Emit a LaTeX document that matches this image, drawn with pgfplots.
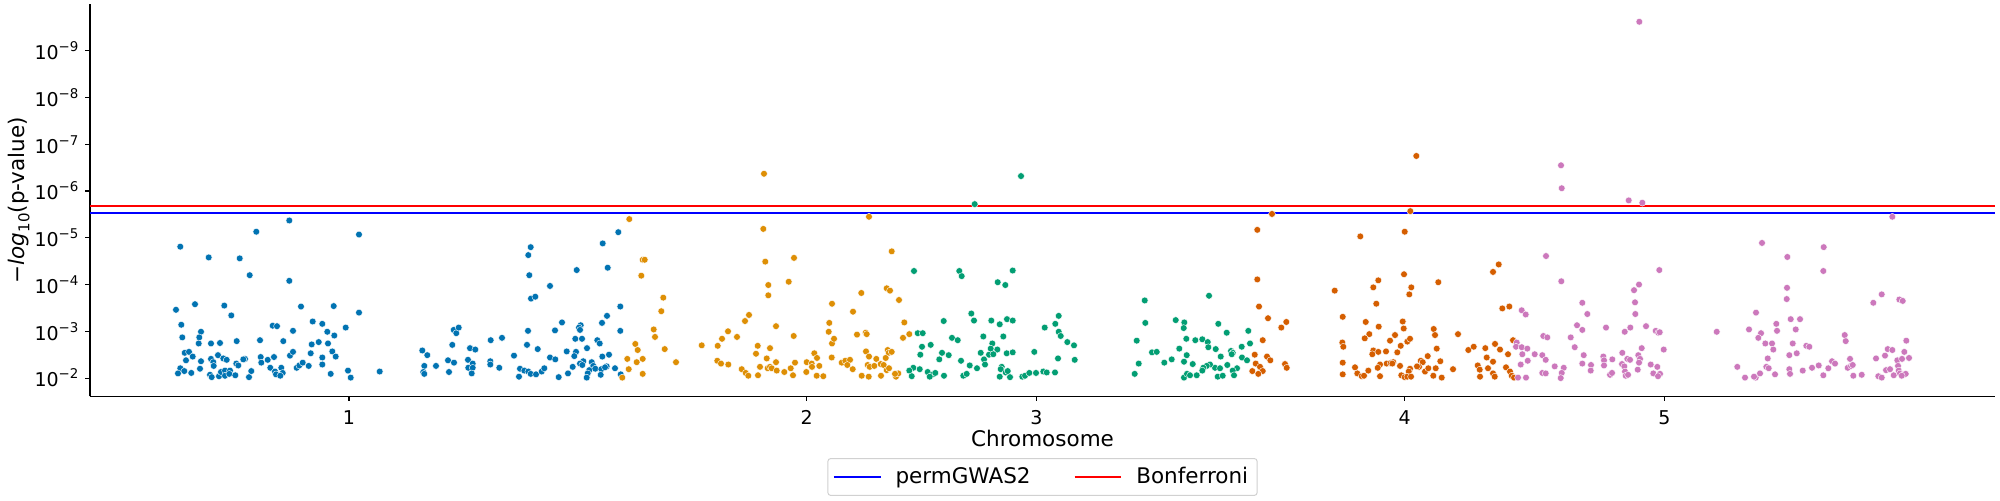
\documentclass[border=0pt]{standalone}
\usepackage{fontspec}
\setmainfont{DejaVu Sans}
\usepackage{pgfplots}
\pgfplotsset{compat=1.18}
\definecolor{cA}{HTML}{0173B2}
\definecolor{cB}{HTML}{DE8F05}
\definecolor{cC}{HTML}{029E73}
\definecolor{cD}{HTML}{D55E00}
\definecolor{cE}{HTML}{CC78BC}
\newcommand{\tsup}[1]{10\raisebox{0.42em}{\fontsize{6.7pt}{7pt}\selectfont #1}}
\pgfplotsset{dots/.style={only marks, mark=*, mark size=1.7pt, color=#1, mark options={draw=white, line width=0.2pt, fill=#1}, forget plot}}
\begin{document}
\begin{tikzpicture}
\begin{axis}[
  at={(0,0)}, anchor=south west,
  scale only axis, width=952.5pt, height=196.15pt,
  xmin=90, xmax=1995, ymin=1.61, ymax=10.0,
  axis x line*=bottom, axis y line*=left,
  axis line style={-, line width=0.55pt},
  xtick={349,806.7,1036.3,1404.7,1664.3}, xticklabels={1,2,3,4,5},
  ytick={2,3,4,5,6,7,8,9},
  yticklabels={\tsup{−2},\tsup{−3},\tsup{−4},\tsup{−5},\tsup{−6},\tsup{−7},\tsup{−8},\tsup{−9}},
  tick align=outside, major tick length=2.25pt,
  tick style={line width=0.55pt, black},
  ticklabel style={font=\fontsize{9.5pt}{11pt}\selectfont},
  xticklabel style={yshift=-1.2pt},
  xlabel={Chromosome},
  ylabel={−\textit{log}\raisebox{-0.22em}{\fontsize{7.5pt}{8pt}\selectfont 10}(p-value)},
  label style={font=\fontsize{10.75pt}{12pt}\selectfont},
  xlabel style={at={(axis description cs:0.5,-0.1267)}, anchor=base},
  ylabel style={at={(axis description cs:-0.0373,0.5)}, anchor=center},
  legend columns=2,
  legend style={at={(axis description cs:0.5,-0.1573)}, anchor=north,
    draw=black!18, rounded corners=1.5pt, line width=0.5pt,
    font=\fontsize{10.75pt}{12pt}\selectfont,
    inner xsep=2.5pt, inner ysep=2.4pt,
    /tikz/every odd column/.append style={column sep=5pt},
    /tikz/every even column/.append style={column sep=19.5pt}},
  legend image code/.code={\draw[#1] (0pt,0pt) -- (23.35pt,0pt);},
]
% chromosome 1
\addplot[dots=cA] table[row sep=\\] {
x y\\
289.3 5.37\\ 180.3 4.81\\ 256.3 5.13\\ 359 5.07\\ 208.7 4.58\\ 239.7 4.56\\ 249.7 4.20\\ 289.3 4.08\\
176 3.46\\ 195 3.58\\ 224.3 3.55\\ 231.3 3.34\\ 301 3.53\\ 333.7 3.54\\ 359 3.40\\ 181.3 3.14\\
182.3 2.87\\ 201 2.99\\ 199.3 2.87\\ 198.7 2.74\\ 211 2.74\\ 220 2.75\\ 236.7 2.79\\ 260 2.81\\
272.7 3.12\\ 277 3.11\\ 293 3.01\\ 283.3 2.79\\ 312.7 3.21\\ 322.3 3.16\\ 327.3 2.99\\ 334.3 2.91\\
345.7 3.08\\ 318.7 2.77\\ 311.7 2.72\\ 328 2.74\\ 184.7 2.54\\ 189 2.56\\ 186 2.38\\ 192.7 2.46\\
201 2.36\\ 200 2.20\\ 211 2.41\\ 213.3 2.34\\ 213.7 2.26\\ 218 2.49\\ 223.3 2.42\\ 226.7 2.39\\
236.3 2.31\\ 238.3 2.27\\ 245 2.41\\ 243.3 2.40\\ 260.7 2.45\\ 261.3 2.33\\ 267.7 2.39\\ 274 2.45\\
270.3 2.22\\ 290 2.48\\ 293 2.56\\ 296.7 2.22\\ 299.3 2.27\\ 302.7 2.33\\ 308.7 2.26\\ 310.7 2.53\\
322.3 2.44\\ 322.3 2.29\\ 332.3 2.57\\ 335.7 2.46\\ 180.3 2.21\\ 178 2.10\\ 184.3 2.15\\ 191.3 2.11\\
210 2.07\\ 211.7 2.02\\ 219 2.04\\ 221 2.13\\ 225 2.16\\ 225 2.05\\ 230 2.16\\ 229.3 2.09\\
235.3 2.06\\ 251.3 2.15\\ 249 2.02\\ 275 2.14\\ 276 2.08\\ 281.3 2.22\\ 282.7 2.11\\ 280.3 2.05\\
330.7 2.09\\ 348 2.16\\ 350.7 2.01\\ 379.7 2.14\\ 422.3 2.59\\ 427.3 2.49\\ 424.3 2.26\\ 423.3 2.13\\
424.3 2.09\\ 436 2.26\\ 448 2.38\\ 454 2.33\\ 449 2.13\\ 452.3 2.71\\ 453.7 3.03\\ 456.3 2.96\\
458.7 3.08\\ 470 2.64\\ 475.3 2.61\\ 468 2.39\\ 472.7 2.31\\ 468.3 2.22\\ 472.7 2.22\\ 471.7 2.10\\
490.7 2.81\\ 502 2.86\\ 490.3 2.36\\ 490.3 2.29\\ 499.3 2.22\\ 514 2.48\\ 519 2.03\\ 520 2.20\\
524.3 2.16\\ 528.3 2.14\\ 530.7 2.09\\ 536 2.08\\ 541.7 2.14\\ 544.3 2.21\\ 550 2.44\\ 555.3 2.40\\
558.7 2.02\\ 568 2.10\\ 527 2.71\\ 528 3.01\\ 537.7 2.62\\ 555 3.02\\ 562 3.19\\ 566.7 2.57\\
550 3.97\\ 531 3.70\\ 535.3 3.74\\ 529.3 4.20\\ 528.3 4.63\\ 530.7 4.80\\
618.3 5.12\\ 602.7 4.88\\ 576.7 4.31\\ 607.7 4.36\\ 620.3 3.53\\ 607 3.33\\ 602 3.18\\ 620.3 3.01\\
580.7 3.13\\ 579 3.08\\ 580 3.03\\ 575.3 2.84\\ 582 2.84\\ 597.3 2.81\\ 599.7 2.74\\ 587 2.64\\
576 2.56\\ 574.3 2.47\\ 609 2.50\\ 602.3 2.46\\ 583.3 2.36\\ 580 2.31\\ 582.3 2.28\\ 591.7 2.34\\
593.3 2.26\\ 572.7 2.24\\ 589.3 2.17\\ 595.3 2.20\\ 601.3 2.19\\ 606.7 2.25\\ 615 2.21\\ 605 2.23\\
587.7 2.10\\ 586.7 2.01\\ 600.7 2.07\\ 620.7 2.08\\
};
% chromosome 2
\addplot[dots=cB] table[row sep=\\] {
x y\\
764 6.37\\ 629.3 5.40\\ 763.3 5.19\\ 869 5.45\\
622.3 2.01\\ 628.7 2.19\\ 627.3 2.41\\ 636.7 2.34\\ 642.7 2.41\\ 642.7 2.09\\ 637.7 2.60\\ 635.3 2.73\\
655 2.88\\ 653.7 3.04\\ 664.7 2.62\\ 676 2.34\\ 661.3 3.43\\ 663.3 3.72\\ 641.3 4.19\\ 642.7 4.53\\
644.7 4.53\\ 701.7 2.70\\ 717.3 2.37\\ 721 2.31\\ 717.7 2.69\\ 722 2.84\\ 728 3.00\\ 728.3 2.29\\
737 2.88\\ 741.7 2.19\\ 745.7 2.11\\ 748.3 2.05\\ 745 3.22\\ 749 3.35\\ 757.7 2.69\\ 756 2.52\\
760 2.24\\ 758 2.06\\ 766.7 2.42\\ 770 2.64\\ 767.7 2.21\\ 770 2.24\\ 771.7 2.21\\ 776 2.34\\
776.7 2.16\\ 776 3.11\\ 768.3 3.77\\ 768.3 3.99\\ 765.3 4.49\\ 788.7 4.06\\ 794 4.57\\ 793.7 2.90\\
784.3 2.13\\ 790.7 2.21\\ 795 2.33\\ 793 2.06\\ 806.7 2.34\\ 806.3 2.13\\ 814.3 2.53\\ 817 2.43\\
811.7 2.31\\ 812 2.24\\ 819.3 2.26\\ 816.7 2.05\\ 823.3 2.04\\ 832 3.59\\ 829.3 3.18\\ 828.7 2.99\\
832 2.74\\ 834 2.84\\ 831.7 2.44\\ 841.7 2.33\\ 845.3 2.37\\ 850 2.39\\ 847.3 2.28\\ 852.7 2.19\\
853 3.42\\ 861.3 3.82\\ 857 2.93\\ 865.7 2.97\\ 866.7 2.94\\ 866 2.57\\ 869 2.46\\ 867.7 2.28\\
869.7 2.24\\ 874.3 2.26\\ 876.3 2.41\\ 861.7 2.05\\ 868.7 2.03\\ 881 2.05\\ 880.7 2.30\\ 883.7 2.28\\
886.7 2.17\\ 887.7 2.60\\ 888.7 2.54\\ 891.7 2.56\\ 885.7 2.43\\ 889 2.21\\ 896 2.03\\ 898.3 2.10\\
895 2.09\\ 886.7 3.92\\ 890 3.87\\ 899 3.67\\ 904.3 3.19\\ 903 2.86\\ 909.3 2.94\\ 891.7 4.71\\
};
% chromosome 3
\addplot[dots=cC] table[row sep=\\] {
x y\\
1021 6.32\\ 974.7 5.72\\
914 4.29\\ 959.3 4.29\\ 961.7 4.18\\ 1012.7 4.30\\ 997.7 4.05\\ 1005.3 3.99\\ 971.3 3.38\\ 974 3.23\\
943.7 3.22\\ 991.3 3.23\\ 999.7 3.15\\ 1007 3.26\\ 1012.7 3.23\\ 1044.7 3.08\\ 917.7 2.96\\ 922.7 2.96\\
952 2.86\\ 957.7 2.81\\ 983.3 2.89\\ 1003.3 2.89\\ 992.3 2.74\\ 922 2.67\\ 930.7 2.71\\ 920.3 2.50\\
942 2.54\\ 939.3 2.40\\ 948.7 2.49\\ 961 2.37\\ 980.7 2.54\\ 984 2.40\\ 989 2.50\\ 990.7 2.63\\
997.3 2.61\\ 993.3 2.51\\ 1006.7 2.53\\ 1012.7 2.55\\ 1034.3 2.56\\ 913.3 2.22\\ 909.3 2.16\\ 919.7 2.19\\
911.7 2.04\\ 927.7 2.13\\ 932.7 2.08\\ 935.3 2.11\\ 929.7 2.03\\ 944 2.05\\ 963.3 2.05\\ 966.7 2.09\\
969.7 2.27\\ 977 2.21\\ 985 2.29\\ 1001.7 2.24\\ 1000.7 2.19\\ 999.7 2.03\\ 1005.7 2.12\\ 1007.7 2.15\\
1010 2.02\\ 1022.3 2.03\\ 1025 2.05\\ 1029.3 2.11\\ 1036 2.11\\ 1043.3 2.14\\ 1046.7 2.12\\
1058.7 3.33\\ 1055.3 3.16\\ 1058.7 2.99\\ 1060.7 2.90\\ 1067.3 2.77\\ 1074 2.70\\ 1058 2.42\\ 1074.7 2.39\\
1055 2.12\\ 1144.7 3.66\\ 1145.3 3.18\\ 1136.7 2.80\\ 1152 2.55\\ 1156.7 2.56\\ 1164.3 2.33\\ 1138.7 2.31\\
1134.7 2.09\\ 1171.7 2.40\\ 1175.7 3.24\\ 1184.3 3.19\\ 1183.7 3.07\\ 1186.3 2.84\\ 1179.3 2.63\\ 1186.7 2.49\\
1184 2.35\\ 1192.7 2.30\\ 1195.3 2.81\\ 1202.3 2.83\\ 1207.7 2.77\\ 1208.3 2.66\\ 1215.7 2.62\\ 1209 3.76\\
1218.3 3.16\\ 1226.7 2.97\\ 1220.7 2.46\\ 1231 2.58\\ 1232.7 2.54\\ 1231.7 2.51\\ 1241.7 2.67\\ 1248.3 3.01\\
1250 2.74\\ 1242 2.44\\ 1247 2.38\\ 1227.3 2.28\\ 1237 2.21\\ 1232.7 2.16\\ 1234 2.06\\ 1215 2.22\\
1220 2.21\\ 1210 2.29\\ 1206.7 2.26\\ 1203.3 2.22\\ 1202.3 2.16\\ 1184 2.01\\ 1187 2.09\\ 1190 2.06\\
1196.7 2.06\\ 1217.7 2.03\\ 1222.7 2.05\\
};
% chromosome 4
\addplot[dots=cD] table[row sep=\\] {
x y\\
1416.3 6.75\\ 1272 5.51\\ 1410.3 5.57\\ 1257.3 5.17\\
1257.3 4.11\\ 1259 3.53\\ 1268 3.28\\ 1262.7 2.81\\ 1254.7 2.50\\ 1267 2.46\\ 1270.3 2.38\\ 1281.3 3.08\\
1286.3 3.20\\ 1255.7 2.31\\ 1260 2.24\\ 1262.7 2.15\\ 1258.3 2.09\\ 1252.3 2.15\\ 1285 2.30\\ 1286.7 2.22\\
1334.7 3.87\\ 1342.7 3.31\\ 1360.3 5.03\\ 1404.7 5.13\\ 1404 4.22\\ 1411.3 3.94\\ 1409.3 3.79\\ 1378.3 4.09\\
1373.3 3.94\\ 1376.3 3.59\\ 1438.3 4.05\\ 1498.7 4.43\\ 1493 4.27\\ 1502.3 3.49\\ 1509.3 3.53\\ 1365.7 3.20\\
1378.7 3.10\\ 1402.7 3.21\\ 1403.7 3.06\\ 1369.3 2.94\\ 1364.7 2.85\\ 1390 2.80\\ 1395 2.92\\ 1400.7 2.69\\
1407.3 2.78\\ 1410 2.84\\ 1342.3 2.76\\ 1343.3 2.67\\ 1373.3 2.59\\ 1372.3 2.51\\ 1378.3 2.56\\ 1386 2.57\\
1397.3 2.55\\ 1433.7 3.05\\ 1435 2.92\\ 1436.7 2.63\\ 1458 2.94\\ 1440.3 2.36\\ 1427.7 2.47\\ 1420.7 2.37\\
1422.7 2.34\\ 1419 2.24\\ 1417 2.25\\ 1342.7 2.33\\ 1342.7 2.08\\ 1355 2.23\\ 1357.3 2.10\\ 1361.7 2.04\\
1364 2.05\\ 1368.3 2.16\\ 1380 2.29\\ 1377.7 2.22\\ 1380 2.04\\ 1386.7 2.31\\ 1390.7 2.32\\ 1393.3 2.34\\
1392.3 2.31\\ 1400 2.26\\ 1410 2.20\\ 1408.7 2.14\\ 1401.3 2.06\\ 1404.7 2.02\\ 1407.3 2.03\\ 1411 2.03\\
1425 2.14\\ 1428.3 2.21\\ 1435.7 2.21\\ 1433.3 2.05\\ 1441.7 2.01\\ 1453 2.19\\ 1468.3 2.60\\ 1473.7 2.67\\
1485.3 2.64\\ 1495 2.73\\ 1500 2.61\\ 1486.7 2.44\\ 1493 2.35\\ 1508 2.51\\ 1513 2.81\\ 1477.7 2.27\\
1479.7 2.18\\ 1488 2.21\\ 1480 2.03\\ 1493 2.10\\ 1494.7 2.03\\ 1506 2.23\\ 1510 2.14\\ 1511.7 2.05\\
1514 2.01\\
};
% chromosome 5
\addplot[dots=cE] table[row sep=\\] {
x y\\
1639.3 9.62\\ 1628.7 5.80\\ 1642.3 5.75\\ 1892.3 5.45\\ 1561 6.55\\ 1561.7 6.06\\
1521.7 3.45\\ 1525.7 3.36\\ 1516.7 2.76\\ 1516 2.67\\ 1521.7 2.66\\ 1527.3 2.63\\ 1522.3 2.51\\ 1527.7 2.37\\
1520.7 2.29\\ 1518 2.01\\ 1526 2.01\\
1534.7 2.51\\ 1542.3 2.49\\ 1545.7 2.39\\ 1543.3 2.90\\ 1547.3 2.87\\ 1546 4.61\\ 1561.3 4.07\\ 1582.3 3.61\\
1587.3 3.37\\ 1577 3.13\\ 1582.3 3.03\\ 1570.7 2.87\\ 1574.7 2.66\\ 1583.7 2.49\\ 1582.3 2.31\\ 1554.7 2.25\\
1563.7 2.22\\ 1561.7 2.11\\ 1560.7 2.00\\ 1542.3 2.11\\ 1545.7 2.10\\ 1591 2.28\\ 1590.7 2.16\\ 1603.3 2.46\\
1604 2.38\\ 1604 2.27\\ 1612.3 2.40\\ 1606 3.08\\ 1610 2.07\\ 1612 2.11\\ 1622.3 2.54\\ 1622 2.30\\
1624.3 2.25\\ 1627.3 2.41\\ 1630 2.39\\ 1625 2.14\\ 1625.7 2.05\\ 1628 2.07\\ 1624.7 2.99\\ 1630.3 3.08\\
1634 3.88\\ 1639 4.00\\ 1635 3.62\\ 1635.3 3.37\\ 1646 3.11\\ 1659.3 4.31\\ 1655.7 3.01\\ 1658.3 2.97\\
1659.7 2.98\\ 1641.7 2.64\\ 1638.3 2.49\\ 1640 2.41\\ 1639 2.33\\ 1637.7 2.18\\ 1650.7 2.29\\ 1657.3 2.24\\
1663.7 2.61\\ 1653.3 2.10\\ 1660 2.09\\ 1658 2.04\\ 1716.7 2.99\\ 1737.3 2.24\\ 1745 2.01\\ 1755.7 2.01\\
1760 2.10\\ 1754 2.03\\ 1749 3.04\\ 1756 3.40\\ 1761 2.96\\ 1758.3 2.86\\ 1765.3 2.74\\ 1772 2.74\\
1773.3 2.61\\ 1767.7 2.42\\ 1766.3 2.24\\ 1768.7 2.21\\ 1775 2.08\\ 1776.3 3.16\\ 1777 3.01\\ 1762 4.89\\
1787.3 4.59\\ 1787 3.93\\ 1786.7 3.69\\ 1790.7 3.26\\ 1800 3.26\\ 1795.7 3.04\\ 1792.7 2.74\\ 1789.3 2.49\\
1796.7 2.53\\ 1789.3 2.19\\ 1790 2.09\\ 1802.7 2.16\\ 1806.3 2.69\\ 1809.3 2.67\\ 1812 2.22\\ 1818.7 2.27\\
1823.3 2.06\\ 1828.3 2.21\\ 1832 2.36\\ 1835 2.31\\ 1823.7 4.80\\ 1823.3 4.29\\ 1844.7 2.92\\ 1845.7 2.79\\
1850 2.41\\ 1847.7 2.22\\ 1851 2.26\\ 1852.7 2.28\\ 1853.3 2.05\\ 1861.7 2.07\\ 1873.3 3.61\\ 1881.7 3.79\\
1899.3 3.68\\ 1902.7 3.65\\ 1876 2.42\\ 1885 2.48\\ 1887.7 2.62\\ 1892.3 2.60\\ 1878.3 2.04\\ 1881.7 2.01\\
1886 2.17\\ 1890 2.19\\ 1893.7 2.06\\ 1897.3 2.38\\ 1902 2.41\\ 1909 2.43\\ 1904.3 2.56\\ 1906.3 2.80\\
1898 2.26\\ 1898.7 2.16\\ 1900 2.10\\ 1903.7 2.08\\ 1905.7 2.09\\ 1901.7 2.05\\
};
% thresholds
\addplot[color=blue, line width=1pt] coordinates {(90,5.54) (1995,5.54)};
\addlegendentry{permGWAS2}
\addplot[color=red, line width=1pt] coordinates {(90,5.67) (1995,5.67)};
\addlegendentry{Bonferroni}
\end{axis}
\pgfresetboundingbox
\path[use as bounding box] (-45pt,-51.85pt) rectangle (955pt,198.15pt);
\end{tikzpicture}
\end{document}
